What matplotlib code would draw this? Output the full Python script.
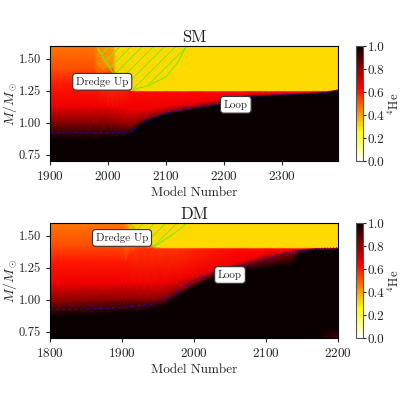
import matplotlib
matplotlib.use("Agg")
import matplotlib.pyplot as plt
import numpy as np

plt.rcParams["font.family"] = ["cmr10", "DejaVu Serif"]
plt.rcParams["mathtext.fontset"] = "cm"
plt.rcParams["axes.unicode_minus"] = False
plt.rcParams["axes.formatter.use_mathtext"] = True
plt.rcParams["hatch.linewidth"] = 0.7

# SM panel: each row is one layer of the star, bottom to top
SM_MODELS = [1900, 1960, 1975, 1982, 2000, 2008, 2014, 2025, 2040, 2060, 2080, 2100, 2150, 2200, 2245, 2300, 2375, 2390, 2396]
SM_MASS = [
    [0.70] * 19,
    [0.87, 0.87, 0.87, 0.87, 0.88, 0.885, 0.885, 0.89, 0.92, 1.00, 1.04, 1.07, 1.11, 1.15, 1.205, 1.22, 1.235, 1.25, 1.255],
    [1.00, 1.00, 1.00, 1.00, 1.00, 0.99, 0.99, 0.98, 0.98, 1.02, 1.05, 1.08, 1.12, 1.155, 1.21, 1.223, 1.24, 1.253, 1.258],
    [1.13, 1.13, 1.13, 1.13, 1.13, 1.12, 1.12, 1.11, 1.10, 1.10, 1.11, 1.13, 1.16, 1.19, 1.225, 1.232, 1.245, 1.255, 1.26],
    [1.30, 1.30, 1.30, 1.30, 1.40, 1.40, 1.36, 1.30, 1.245, 1.245, 1.245, 1.245, 1.245, 1.245, 1.245, 1.245, 1.248, 1.257, 1.262],
    [1.42, 1.42, 1.42, 1.45, 1.44, 1.44, 1.375, 1.32, 1.255, 1.252, 1.252, 1.252, 1.252, 1.252, 1.252, 1.252, 1.252, 1.26, 1.265],
    [1.60] * 19,
]
SM_HE = [
    [1.0] * 19,
    [1.0] * 19,
    [0.82] * 19,
    [0.66] * 19,
    [0.60, 0.60, 0.60, 0.60, 0.52, 0.52, 0.55, 0.58, 0.62, 0.62, 0.62, 0.62, 0.62, 0.62, 0.62, 0.62, 0.62, 0.62, 0.62],
    [0.52, 0.52, 0.52, 0.44, 0.42, 0.42, 0.32, 0.32, 0.31, 0.31, 0.31, 0.31, 0.31, 0.31, 0.31, 0.31, 0.31, 0.31, 0.31],
    [0.46, 0.46, 0.46, 0.42, 0.41, 0.40, 0.31, 0.31, 0.31, 0.31, 0.31, 0.31, 0.31, 0.31, 0.31, 0.31, 0.31, 0.31, 0.31],
]
SM_LOOP_X = [1900, 2035, 2045, 2060, 2080, 2100, 2150, 2200, 2245, 2300, 2375, 2390, 2396]
SM_LOOP_Y = [0.92, 0.92, 0.95, 1.00, 1.05, 1.08, 1.12, 1.15, 1.205, 1.22, 1.235, 1.25, 1.255]
SM_DREDGE_X = [1980, 1995, 2010, 2025, 2040, 2070, 2100, 2120, 2135]
SM_DREDGE_Y = [1.60, 1.48, 1.38, 1.31, 1.255, 1.29, 1.36, 1.47, 1.60]

# DM panel
DM_MODELS = [1800, 1850, 1900, 1905, 1915, 1925, 1935, 1945, 1960, 1980, 2000, 2030, 2060, 2100, 2135, 2145, 2170, 2200]
DM_MASS = [
    [0.70] * 18,
    [0.78] * 18,
    [0.87, 0.88, 0.90, 0.90, 0.905, 0.91, 0.92, 0.93, 0.96, 1.04, 1.10, 1.18, 1.22, 1.25, 1.27, 1.36, 1.40, 1.405],
    [0.98, 0.99, 1.00, 1.00, 1.00, 1.00, 1.00, 1.00, 1.02, 1.07, 1.13, 1.21, 1.26, 1.32, 1.37, 1.39, 1.402, 1.406],
    [1.13, 1.13, 1.13, 1.13, 1.13, 1.13, 1.13, 1.13, 1.14, 1.16, 1.19, 1.24, 1.29, 1.36, 1.39, 1.395, 1.404, 1.407],
    [1.30, 1.30, 1.30, 1.30, 1.38, 1.40, 1.40, 1.40, 1.40, 1.40, 1.40, 1.40, 1.40, 1.40, 1.40, 1.40, 1.406, 1.408],
    [1.42, 1.42, 1.42, 1.44, 1.59, 1.54, 1.47, 1.415, 1.41, 1.41, 1.41, 1.41, 1.41, 1.41, 1.41, 1.41, 1.41, 1.41],
    [1.60] * 18,
]
DM_HE = [
    [1.0] * 17 + [0.90],
    [1.0] * 18,
    [1.0] * 18,
    [0.82] * 18,
    [0.66] * 18,
    [0.60, 0.60, 0.60, 0.60, 0.56, 0.56, 0.56, 0.56, 0.56, 0.56, 0.58, 0.60, 0.62, 0.62, 0.62, 0.62, 0.62, 0.62],
    [0.52, 0.52, 0.52, 0.47, 0.33, 0.32, 0.32, 0.31, 0.31, 0.31, 0.31, 0.31, 0.31, 0.31, 0.31, 0.31, 0.31, 0.31],
    [0.46, 0.46, 0.46, 0.43, 0.33, 0.31, 0.31, 0.31, 0.31, 0.31, 0.31, 0.31, 0.31, 0.31, 0.31, 0.31, 0.31, 0.31],
]
DM_LOOP_X = [1800, 1850, 1900, 1950, 1975, 2000, 2030, 2060, 2100, 2130, 2170, 2200]
DM_LOOP_Y = [0.92, 0.925, 0.94, 0.97, 1.06, 1.15, 1.21, 1.26, 1.32, 1.37, 1.40, 1.405]
DM_DREDGE_X = [1910, 1925, 1945, 1965, 1980, 1990]
DM_DREDGE_Y = [1.60, 1.52, 1.415, 1.49, 1.55, 1.60]


def panel(fig, top_px, title, xs, mass, he, loop_x, loop_y, dredge_x, dredge_y,
          xlim, xticks, dredge_pos, loop_pos):
    ax = fig.add_axes([50 / 400, 1 - (top_px + 115) / 400, 288 / 400, 115 / 400])
    X = np.tile(np.array(xs, dtype=float), (len(mass), 1))
    mesh = ax.pcolormesh(X, np.array(mass), np.array(he), cmap="hot_r", vmin=0, vmax=1,
                         shading="gouraud", rasterized=True)
    ax.fill(dredge_x, dredge_y, facecolor="none", edgecolor="#7ee81a", hatch="///", linewidth=0.8, zorder=2)
    ax.plot(loop_x, loop_y, color="blue", linestyle=":", linewidth=0.8, zorder=3)
    box = dict(boxstyle="round,pad=0.3", facecolor="white", edgecolor="#333333", linewidth=0.8)
    ax.text(*dredge_pos, "Dredge Up", fontsize=8, ha="center", va="center", bbox=box, color="#222222", zorder=4)
    ax.text(*loop_pos, "Loop", fontsize=8, ha="center", va="center", bbox=box, color="#222222", zorder=4)
    ax.set_xlim(*xlim)
    ax.set_ylim(0.70, 1.60)
    ax.set_xticks(xticks)
    ax.set_yticks([0.75, 1.00, 1.25, 1.50])
    ax.set_yticklabels(["0.75", "1.00", "1.25", "1.50"])
    ax.tick_params(labelsize=9.5, length=3, width=0.8, colors="#222222")
    ax.tick_params(axis="y", labelsize=9)
    ax.set_title(title, fontsize=12, pad=3, color="#222222")
    ax.set_xlabel("Model Number", fontsize=9.5, color="#222222", labelpad=3)
    ax.set_ylabel(r"$M/M_\odot$", fontsize=10, color="#222222")
    ax.yaxis.set_label_coords(-0.108, 0.5)

    cax = fig.add_axes([356 / 400, 1 - (top_px + 115) / 400, 7 / 400, 115 / 400])
    cb = fig.colorbar(mesh, cax=cax)
    cb.set_ticks([0.0, 0.2, 0.4, 0.6, 0.8, 1.0])
    cb.ax.set_yticklabels(["0.0", "0.2", "0.4", "0.6", "0.8", "1.0"])
    cb.ax.tick_params(labelsize=9.5, length=2, width=0.8, pad=1.5, colors="#222222")
    cb.outline.set_edgecolor("#555555")
    cb.outline.set_linewidth(0.8)
    cb.set_label(r"$^{4}$He", fontsize=9, color="#222222")
    cb.ax.yaxis.set_label_coords(4.45, 0.5)


fig = plt.figure(figsize=(4, 4), dpi=100)
panel(fig, 46, "SM", SM_MODELS, SM_MASS, SM_HE, SM_LOOP_X, SM_LOOP_Y, SM_DREDGE_X, SM_DREDGE_Y,
      (1900, 2396), [1900, 2000, 2100, 2200, 2300], (1990, 1.32), (2220, 1.14))
panel(fig, 223, "DM", DM_MODELS, DM_MASS, DM_HE, DM_LOOP_X, DM_LOOP_Y, DM_DREDGE_X, DM_DREDGE_Y,
      (1800, 2200), [1800, 1900, 2000, 2100, 2200], (1900, 1.483), (2050, 1.193))
fig.savefig("out.png", dpi=100)
